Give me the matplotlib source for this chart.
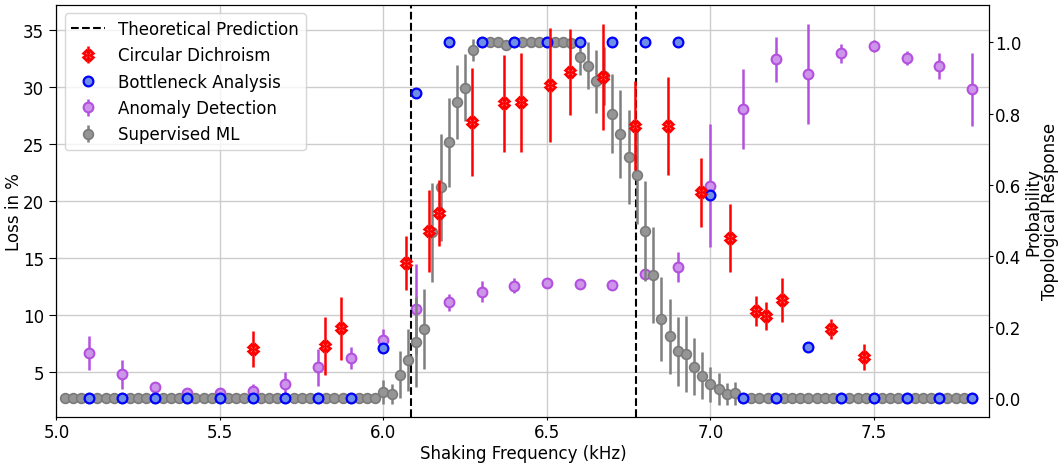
import numpy as np
import matplotlib
matplotlib.use("Agg")
import matplotlib.pyplot as plt

plt.rcParams['font.family'] = ['DejaVu Sans']
plt.rcParams['font.size'] = 12

# Theoretical prediction boundaries (kHz)
theory_lines = [6.085, 6.772]

# Circular Dichroism (topological response)
cd_freq = [5.60, 5.82, 5.87, 6.07, 6.14, 6.17, 6.27, 6.37, 6.42, 6.51, 6.57,
           6.67, 6.77, 6.87, 6.97, 7.06, 7.14, 7.17, 7.22, 7.37, 7.47]
cd_val = [0.138, 0.147, 0.196, 0.379, 0.469, 0.520, 0.777, 0.829, 0.831, 0.881, 0.918,
          0.904, 0.766, 0.766, 0.578, 0.449, 0.244, 0.231, 0.276, 0.194, 0.116]
cd_err = [0.051, 0.081, 0.088, 0.076, 0.115, 0.093, 0.152, 0.136, 0.140, 0.160, 0.121,
          0.149, 0.126, 0.138, 0.096, 0.096, 0.042, 0.040, 0.061, 0.029, 0.037]

# Bottleneck Analysis (probability)
bn_freq = [5.1, 5.2, 5.3, 5.4, 5.5, 5.6, 5.7, 5.8, 5.9, 6.0, 6.1, 6.2, 6.3, 6.4,
           6.5, 6.6, 6.7, 6.8, 6.9, 7.0, 7.1, 7.2, 7.3, 7.4, 7.5, 7.6, 7.7, 7.8]
bn_val = [0, 0, 0, 0, 0, 0, 0, 0, 0, 0.141, 0.857, 1.0, 1.0, 1.0,
          1.0, 1.0, 1.0, 1.0, 1.0, 0.572, 0, 0, 0.143, 0, 0, 0, 0, 0]

# Anomaly Detection (loss in %)
ad_freq = [5.1, 5.2, 5.3, 5.4, 5.5, 5.6, 5.7, 5.8, 5.9, 6.0, 6.1, 6.2, 6.3, 6.4,
           6.5, 6.6, 6.7, 6.8, 6.9, 7.0, 7.1, 7.2, 7.3, 7.4, 7.5, 7.6, 7.7, 7.8]
ad_val = [6.67, 4.80, 3.66, 3.13, 3.16, 3.31, 3.95, 5.41, 6.25, 7.83, 10.53, 11.11, 12.04, 12.57,
          12.78, 12.75, 12.63, 13.60, 14.18, 21.34, 28.07, 32.46, 31.14, 32.98, 33.62, 32.54, 31.87, 29.82]
ad_err = [1.46, 1.27, 0.44, 0.20, 0.20, 0.64, 1.03, 1.61, 0.95, 0.94, 3.98, 0.78, 0.92, 0.64,
          0.30, 0.20, 0.20, 0.40, 1.32, 5.38, 3.48, 1.97, 4.39, 0.83, 0.53, 0.63, 1.14, 3.19]

# Supervised ML (probability), frequencies 5.025 ... 7.8 step 0.025
sml_freq = [round(5.025 + 0.025 * i, 3) for i in range(112)]
sml_val = ([0.0] * 39 +
           [0.016, 0.011, 0.066, 0.108, 0.157, 0.194, 0.466, 0.592, 0.719, 0.833,
            0.873, 0.979, 1.0, 1.0, 1.0, 0.993, 1.0, 1.0, 1.0, 1.0,
            1.0, 1.0, 1.0, 0.998, 0.958, 0.934, 0.890, 0.906, 0.800, 0.742,
            0.678, 0.628, 0.469, 0.346, 0.222, 0.173, 0.131, 0.124, 0.088, 0.063,
            0.039, 0.025, 0.011, 0.013] +
           [0.0] * 29)
sml_err = ([0.0] * 39 +
           [0.034, 0.028, 0.067, 0.087, 0.127, 0.112, 0.139, 0.151, 0.125, 0.104,
            0.094, 0.031, 0.0, 0.0, 0.0, 0.012, 0.0, 0.0, 0.0, 0.0,
            0.0, 0.0, 0.0, 0.010, 0.049, 0.066, 0.088, 0.082, 0.112, 0.123,
            0.132, 0.139, 0.140, 0.134, 0.118, 0.105, 0.096, 0.106, 0.080, 0.067,
            0.049, 0.045, 0.031, 0.033] +
           [0.0] * 29)

fig = plt.figure(figsize=(10.64, 4.64), dpi=100)
ax = fig.add_axes([0.0531, 0.1002, 0.9298 - 0.0531, 0.987 - 0.1002])
ax2 = ax.twinx()

ax.set_xlim(5.0, 7.853)
ax.set_ylim(1.1, 37.2)
ax2.set_ylim(-0.052, 1.105)
ax.set_xticks([5.0, 5.5, 6.0, 6.5, 7.0, 7.5])
ax.set_yticks([5, 10, 15, 20, 25, 30, 35])
ax2.set_yticks([0.0, 0.2, 0.4, 0.6, 0.8, 1.0])
ax.tick_params(axis='x', length=2.5, pad=2.5)
ax.tick_params(axis='y', length=5, pad=4)
ax2.tick_params(axis='y', length=2.8, pad=1.2)
ax.grid(True, color='#cccccc', lw=1)
ax.set_axisbelow(True)

purple_edge = '#b450e0'
purple_face = '#cc95ea'

h_ad = ax.errorbar(ad_freq, ad_val, yerr=ad_err, fmt='o', ms=7, color=purple_edge,
                   mfc=purple_face, mec=purple_edge, mew=1.5, elinewidth=1.8, zorder=3)

h_th = None
for xv in theory_lines:
    h_th = ax2.axvline(xv, color='k', ls='--', lw=1.5, zorder=1)

h_sml = ax2.errorbar(sml_freq, sml_val, yerr=sml_err, fmt='o', ms=7, color='#7f7f7f',
                     mfc='#959595', mec='#7a7a7a', mew=1.2, elinewidth=1.8, zorder=2)
h_bn = ax2.errorbar(bn_freq, bn_val, fmt='o', ms=7, color='blue',
                    mfc='#6f8ee6', mec='blue', mew=1.6, zorder=4)
h_cd = ax2.errorbar(cd_freq, cd_val, yerr=cd_err, fmt='X', ms=7, color='red',
                    mfc=(1, 0.5, 0.5), mec='red', mew=1.8, elinewidth=1.8, zorder=5)

ax.set_xlabel('Shaking Frequency (kHz)', labelpad=1.5)
ax.set_ylabel('Loss in %', labelpad=0)
ax2.set_ylabel('Probability\nTopological Response', ha='center', labelpad=2,
               linespacing=0.95)

leg = ax2.legend([h_th, h_cd, h_bn, h_ad, h_sml],
                 ['Theoretical Prediction', 'Circular Dichroism', 'Bottleneck Analysis',
                  'Anomaly Detection', 'Supervised ML'],
                 loc='upper left')
leg.set_zorder(10)

fig.savefig('out.png', dpi=100)
